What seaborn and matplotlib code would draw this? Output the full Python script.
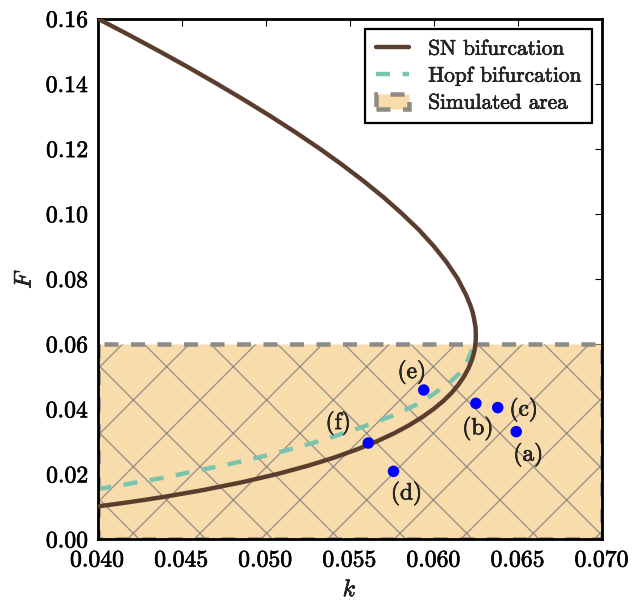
import numpy as np
import pandas as pd
import matplotlib
matplotlib.use("Agg")
import matplotlib.pyplot as plt
import matplotlib.patheffects as pe
import seaborn as sns

# ---- data ----
sn_F = [0.010, 0.011, 0.012, 0.013, 0.015, 0.0175, 0.020, 0.0225, 0.025, 0.0275,
        0.030, 0.0325, 0.035, 0.0375, 0.040, 0.0425, 0.045, 0.0475, 0.050,
        0.0525, 0.055, 0.0565, 0.058, 0.059, 0.060, 0.061, 0.0625, 0.064, 0.065,
        0.066, 0.068, 0.070, 0.072, 0.075, 0.080, 0.085, 0.090, 0.095, 0.100,
        0.105, 0.110, 0.115, 0.120, 0.125, 0.130, 0.135, 0.140, 0.145, 0.150,
        0.155, 0.160]
sn_k = [0.04000, 0.04144, 0.04277, 0.04401, 0.04624, 0.04864, 0.05071, 0.05250,
        0.05406, 0.05541, 0.05660, 0.05764, 0.05854, 0.05932, 0.06000, 0.06058,
        0.06107, 0.06147, 0.06180, 0.06206, 0.06226, 0.06235, 0.06242, 0.06245,
        0.06247, 0.06249, 0.06250, 0.06249, 0.06248, 0.06245, 0.06238, 0.06229,
        0.06216, 0.06192, 0.06142, 0.06077, 0.06000, 0.05912, 0.05811, 0.05702,
        0.05583, 0.05456, 0.05321, 0.05178, 0.05028, 0.04871, 0.04708, 0.04540,
        0.04365, 0.04185, 0.04000]

hopf_k = [0.0400, 0.0420, 0.0440, 0.0460, 0.0480, 0.0500, 0.0520, 0.0540,
          0.0560, 0.0575, 0.0590, 0.0600, 0.0610, 0.0615, 0.0620, 0.0623, 0.0625]
hopf_F = [0.0153, 0.0171, 0.0189, 0.0211, 0.0232, 0.0256, 0.0283, 0.0314,
          0.0349, 0.0378, 0.0414, 0.0446, 0.0484, 0.0508, 0.0548, 0.0585, 0.0625]

sim_k = [0.040, 0.070]
sim_F_low = 0.0
sim_F_high = 0.06

pt_labels = ["(a)", "(b)", "(c)", "(d)", "(e)", "(f)"]
pt_k = [0.0649, 0.0625, 0.0638, 0.0576, 0.0594, 0.0561]
pt_F = [0.0330, 0.0417, 0.0404, 0.0208, 0.0458, 0.0295]

x_ticks = [0.040, 0.045, 0.050, 0.055, 0.060, 0.065, 0.070]
y_ticks = [0.00, 0.02, 0.04, 0.06, 0.08, 0.10, 0.12, 0.14, 0.16]

# ---- style ----
DPI = 200


def px(p):
    """pixels -> points"""
    return p * 72.0 / DPI


sns.set_style("white")
plt.rcParams.update({
    "font.family": ["cmr10", "DejaVu Serif"],
    "mathtext.fontset": "cm",
    "axes.formatter.use_mathtext": True,
    "hatch.linewidth": px(1.2),
    "lines.scale_dashes": False,
    "axes.unicode_minus": False,
})

fig = plt.figure(figsize=(632 / DPI, 601 / DPI), dpi=DPI)
ax = fig.add_axes([97.5 / 632, 1 - 539 / 601, (602 - 97.5) / 632, (539 - 18.5) / 601])

brown = "#5a3d2d"
teal = "#7ac4ae"
fillc = "#f8dcac"
grayc = "#8f8a84"
dash = (px(14), px(12.5))
bolden = [pe.withStroke(linewidth=px(0.6), foreground="black")]

# simulated area
ax.fill_between(sim_k, sim_F_low, sim_F_high, facecolor=fillc, edgecolor=grayc,
                hatch="x", linestyle=(0, dash), linewidth=px(4.5),
                label="Simulated area", zorder=1)

sn_df = pd.DataFrame({"k": sn_k, "F": sn_F})
hopf_df = pd.DataFrame({"k": hopf_k, "F": hopf_F})

sns.lineplot(data=sn_df, x="k", y="F", sort=False, estimator=None, ax=ax,
             color=brown, linewidth=px(4.4), label="SN bifurcation", zorder=3)
sns.lineplot(data=hopf_df, x="k", y="F", sort=False, estimator=None, ax=ax,
             color=teal, linewidth=px(4.4), label="Hopf bifurcation", zorder=2)
ax.lines[-1].set_dashes(dash)

pts_df = pd.DataFrame({"k": pt_k, "F": pt_F, "lab": pt_labels})
sns.scatterplot(data=pts_df, x="k", y="F", ax=ax, color="#0000ff",
                s=px(11.5) ** 2, edgecolor="none", zorder=4, legend=False)

offsets = {"(a)": (12, -23), "(b)": (2, -25), "(c)": (26, -2),
           "(d)": (13, -22), "(e)": (-12, 18), "(f)": (-30, 20)}
for lab, kk, ff in zip(pt_labels, pt_k, pt_F):
    ox, oy = offsets[lab]
    ax.annotate(lab, (kk, ff), xytext=(px(ox), px(oy)), textcoords="offset points",
                ha="center", va="center", fontsize=px(23.5), zorder=5,
                path_effects=bolden)

ax.set_xlim(0.04, 0.07)
ax.set_ylim(0.0, 0.16)
ax.set_xticks(x_ticks)
ax.set_yticks(y_ticks)
ax.tick_params(direction="in", top=True, right=True, length=px(7), width=px(1.1),
               labelsize=px(23.7), colors="black")
ax.tick_params(axis="x", pad=px(10.5))
ax.tick_params(axis="y", pad=px(8.5))
for s in ax.spines.values():
    s.set_visible(True)
    s.set_linewidth(px(2.8))
    s.set_color("black")

ax.set_xlabel("$k$", fontsize=px(24), labelpad=px(7.5))
ax.set_ylabel("$F$", fontsize=px(24), labelpad=px(10))

handles, labels = ax.get_legend_handles_labels()
order = [labels.index("SN bifurcation"), labels.index("Hopf bifurcation"),
         labels.index("Simulated area")]
leg = ax.legend([handles[i] for i in order], [labels[i] for i in order],
                loc="upper right", fontsize=px(21.3), frameon=True, fancybox=False,
                framealpha=1, edgecolor="black", borderaxespad=0.47,
                handlelength=1.55, handletextpad=0.9, labelspacing=0.35,
                borderpad=0.5)
leg.get_frame().set_linewidth(px(2.2))

for t in (ax.get_xticklabels() + ax.get_yticklabels() + leg.get_texts()
          + [ax.xaxis.label, ax.yaxis.label]):
    t.set_path_effects(bolden)

fig.savefig("out.png", dpi=DPI)
